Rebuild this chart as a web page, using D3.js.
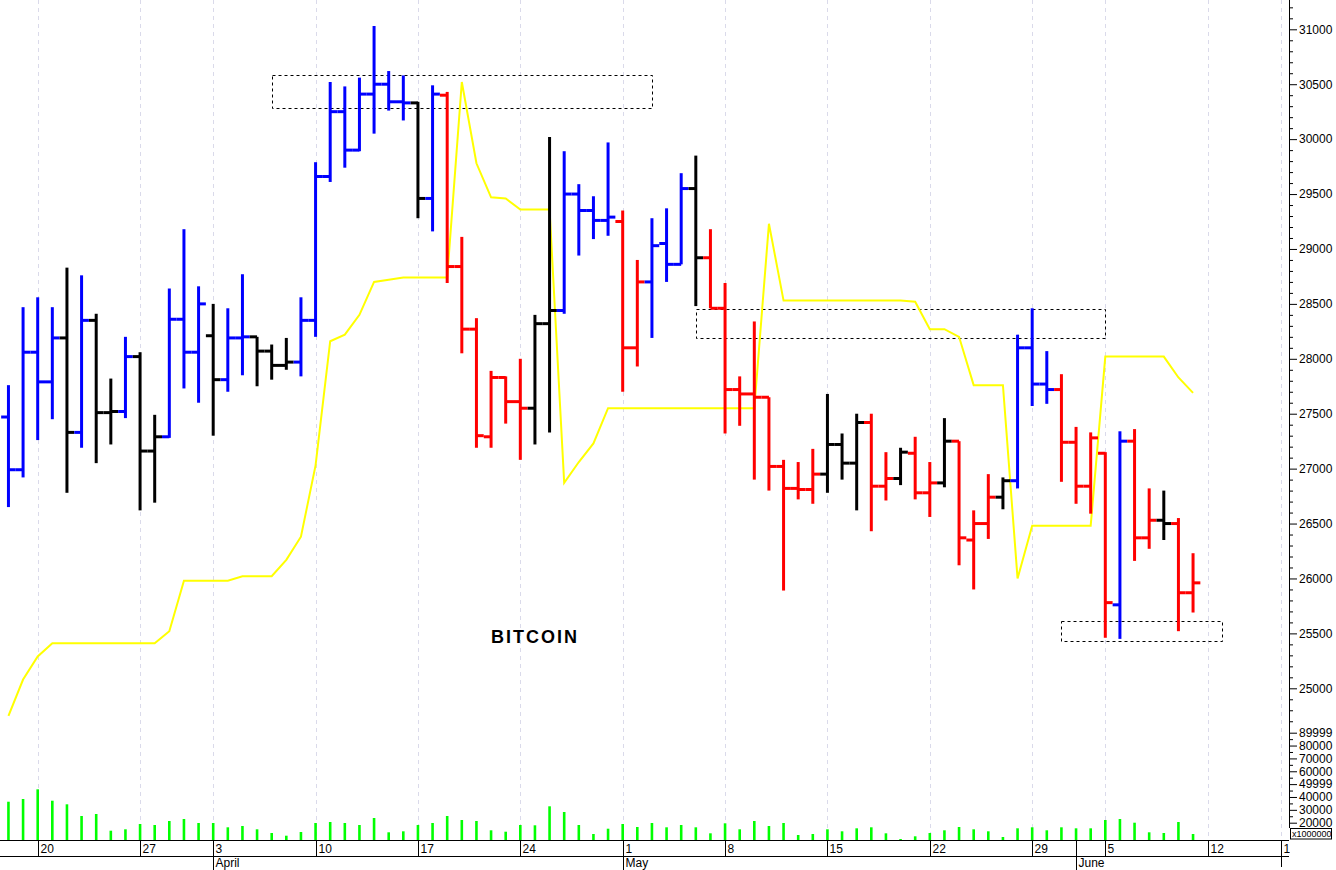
<!DOCTYPE html>
<html><head><meta charset="utf-8">
<script src="https://cdn.jsdelivr.net/npm/d3@7"></script>
<style>
body{margin:0;background:#fff;}
svg{display:block;font-family:"Liberation Sans",Arial,sans-serif;}
</style></head><body>
<svg id="chart" width="1336" height="870"></svg>
<script>
// ---- data (daily bars, index 0 = 18 March) ----
const opens=[27470,26990,28060,27790,28190,27330,28350,27510,27520,28020,
27160,27290,28360,28060,28210,27810,28190,28200,28070,27940,
27970,28350,29660,30250,29900,30410,30500,30340,30330,29460,
30400,28840,28270,27290,27830,27610,27550,28320,28440,29500,
29350,29260,29250,28100,28700,29050,28860,29550,28920,28460,
27720,27680,27650,27020,26820,26810,26950,27220,27050,27420,
26840,26910,27140,26780,26870,27250,26350,26500,26740,26890,
28100,27770,27720,27240,26840,27140,25760,27250,26370,26530,
26500,25870];
const highs=[27760,28470,28560,28470,28830,28760,28410,27820,28200,28060,
27490,28640,29180,28660,28500,28460,28770,28200,28130,28190,
28560,29790,30520,30480,30560,31030,30620,30580,30340,30490,
30430,29110,28370,27890,27840,28000,28400,30020,29890,29590,
29480,29970,29350,28900,29280,29370,29690,29850,29180,28690,
27840,28340,27650,27080,27060,27180,27680,27320,27500,27500,
27150,27190,27290,27060,27460,27250,26620,26950,26920,28220,
28460,28070,27860,27380,27330,27150,27340,27360,26820,26800,
26550,26230];
const lows=[26650,26920,27260,27450,26780,27190,27050,27220,27460,26620,
26690,27280,27730,27600,27300,27700,27850,27750,27810,27900,
27840,28200,29610,29740,29890,30050,30260,30170,29280,29160,
28690,28050,27190,27190,27410,27080,27220,27330,28410,28940,
29090,29120,27700,27930,28190,28700,28860,28480,28460,27320,
27390,26900,26800,25890,26720,26680,26780,26900,26620,26430,
26710,26850,26720,26560,26830,26120,25900,26360,26630,26820,
27570,27590,26880,26680,26590,25460,25450,26160,26270,26350,
25520,25690];
const closes=[26990,28060,27790,28190,27330,28350,27510,27520,28020,27160,
27290,28360,28060,28500,27810,28190,28200,28070,27940,27970,
28350,29660,30250,29900,30410,30500,30340,30330,29460,30410,
28840,28270,27300,27830,27610,27550,28320,28440,29500,29350,
29260,29290,28100,28700,29030,28860,29550,28920,28460,27720,
27680,27650,27020,26820,26810,26950,27220,27050,27420,26840,
26910,27150,26780,26870,27250,26370,26500,26740,26890,28100,
27770,27720,27240,26840,27280,25780,27250,26370,26530,26500,
25870,25960];
const barState=["B","B","B","B","K","B","K","K","B","K",
"K","B","B","B","K","B","B","K","K","K",
"B","B","B","B","B","B","B","B","K","B",
"R","R","R","R","R","R","K","K","B","B",
"B","B","R","R","B","B","B","K","R","R",
"R","R","R","R","R","R","K","K","K","R",
"R","K","R","R","K","R","R","R","K","B",
"B","B","R","R","R","R","B","R","R","K",
"R","R"];
const volumes=[36320,38420,45970,37100,34300,25200,26760,13770,14860,18980,
18200,21310,22870,19760,19760,16410,17420,14860,11980,9880,
12760,19760,20530,19760,18200,23650,12520,13300,18200,19760,
25200,22090,21310,14080,12990,18200,17970,32750,28310,18200,
11200,15320,18980,16640,19760,16410,18200,16410,11740,19520,
14860,21310,17420,19760,10420,11200,14860,13300,15630,16410,
11740,7310,9410,11980,14080,16640,14860,13300,8870,15630,
16410,14080,16410,15630,15630,22090,22870,19990,12520,11980,
20530,11200];
const trendLine=[24750,25080,25290,25410,25410,25410,25410,25410,25410,25410,
25410,25520,25980,25980,25980,25980,26020,26020,26020,26170,
26380,27030,28160,28220,28400,28700,28720,28740,28740,28740,
28740,30520,29780,29470,29460,29360,29360,29360,26870,27060,
27230,27550,27550,27550,27550,27550,27550,27550,27550,27550,
27550,27550,29230,28530,28530,28530,28530,28530,28530,28530,
28530,28530,28520,28270,28270,28200,27760,27760,27760,26000,
26480,26480,26480,26480,26480,28020,28020,28020,28020,28020,
27830,27690];
const boxStart=[18,47,72];
const boxEnd=[44,75,83];
const boxTop=[30580,28450,25615];
const boxBottom=[30280,28190,25430];
const weekIdx=[2,9,14,21,28,35,42,49,56,63,70,75,82,87];
const weekLabels=["20","27","3","10","17","24","1","8","15","22","29","5","12","19"];
const monthIdx=[14,42,73];
const monthLabels=["April","May","June"];
const priceMajor=d3.range(25000,31001,500);
const priceMinor=d3.range(24700,31201,100).filter(v=>v%500!==0);
const volTickVals=[90000,80000,70000,60000,50000,40000,30000,20000];
const volTickLabels=["89999","80000","70000","60000","49999","40000","30000","20000"];
const volMinor=[85000,75000,65000,55000,45000,35000,25000];
const title="BITCOIN";

// ---- layout ----
const W=1336,H=870,AX=1289,XB=840;
const stateColor={B:"#0000ff",R:"#ff0000",K:"#000000"};
const svg=d3.select("#chart");
svg.append("rect").attr("width",W).attr("height",H).attr("fill","#fff");
const x=d3.scaleLinear().domain([0,87]).range([8.45,1280.8]);
const y=d3.scaleLinear().domain([25000,31000]).range([688.3,29.3]);
const yv=d3.scaleLinear().domain([0,90000]).range([848.4,732.7]);
const defs=svg.append("defs");
defs.append("clipPath").attr("id","plotclip").append("rect").attr("x",0).attr("y",0).attr("width",AX).attr("height",XB);
defs.append("clipPath").attr("id","axclip").append("rect").attr("x",0).attr("y",XB).attr("width",1290).attr("height",H-XB);

// grid
svg.append("g").selectAll("line").data(weekIdx).join("line")
 .attr("x1",d=>Math.round(x(d))+0.5).attr("x2",d=>Math.round(x(d))+0.5)
 .attr("y1",0).attr("y2",XB)
 .attr("stroke","#dadaea").attr("stroke-width",1).attr("stroke-dasharray","4,4");

const plot=svg.append("g").attr("clip-path","url(#plotclip)");
// volume
plot.append("g").selectAll("line").data(volumes).join("line")
 .attr("x1",(d,i)=>x(i)).attr("x2",(d,i)=>x(i))
 .attr("y1",yv(0)).attr("y2",d=>yv(d))
 .attr("stroke","#00ff00").attr("stroke-width",2.6);
// dashed boxes
plot.append("g").selectAll("rect").data(boxStart).join("rect")
 .attr("x",(d,k)=>Math.round(x(d))+0.5).attr("y",(d,k)=>Math.round(y(boxTop[k]))+0.5)
 .attr("width",(d,k)=>Math.round(x(boxEnd[k])-x(d)))
 .attr("height",(d,k)=>Math.round(y(boxBottom[k])-y(boxTop[k])))
 .attr("fill","none").attr("stroke","#000").attr("stroke-width",1).attr("stroke-dasharray","3,3");
// trend line
plot.append("path").datum(trendLine)
 .attr("d",d3.line().x((d,i)=>x(i)).y(d=>y(d)))
 .attr("fill","none").attr("stroke","#ffff00").attr("stroke-width",2);
// bars
const half=7.3;
const bars=plot.append("g").selectAll("g").data(opens).join("g")
 .attr("stroke",(d,i)=>stateColor[barState[i]]).attr("stroke-width",3);
bars.append("line").attr("x1",(d,i)=>x(i)).attr("x2",(d,i)=>x(i))
 .attr("y1",(d,i)=>y(highs[i])).attr("y2",(d,i)=>y(lows[i]));
bars.append("line").attr("x1",(d,i)=>x(i)-half).attr("x2",(d,i)=>x(i))
 .attr("y1",d=>y(d)).attr("y2",d=>y(d));
bars.append("line").attr("x1",(d,i)=>x(i)).attr("x2",(d,i)=>x(i)+half)
 .attr("y1",(d,i)=>y(closes[i])).attr("y2",(d,i)=>y(closes[i]));

// title
svg.append("text").attr("x",535).attr("y",643).attr("text-anchor","middle")
 .attr("font-size",18).attr("font-weight","bold").attr("letter-spacing","2px")
 .attr("fill","#000").text(title);

// price axis
const ax=svg.append("g").attr("transform",`translate(${AX},0)`);
ax.append("line").attr("x1",0.5).attr("x2",0.5).attr("y1",0).attr("y2",828).attr("stroke","#000");
function styleAxis(g){g.select(".domain").remove();g.selectAll("line").attr("stroke","#000");
 g.selectAll("text").attr("font-size",12).attr("fill","#000").attr("font-family","'Liberation Sans',Arial,sans-serif");}
ax.append("g").call(d3.axisRight(y).tickValues(priceMajor).tickSize(8).tickPadding(2).tickFormat(d3.format("d"))).call(styleAxis);
ax.append("g").call(d3.axisRight(y).tickValues(priceMinor).tickSize(4).tickFormat("")).call(styleAxis);
ax.append("g").call(d3.axisRight(yv).tickValues(volTickVals).tickSize(8).tickPadding(2).tickFormat((d,i)=>volTickLabels[i])).call(styleAxis);
ax.append("g").call(d3.axisRight(yv).tickValues(volMinor).tickSize(4).tickFormat("")).call(styleAxis);
svg.append("rect").attr("x",1290.5).attr("y",828.5).attr("width",41).attr("height",10.5)
 .attr("fill","#fff").attr("stroke","#000").attr("stroke-width",1);
svg.append("text").attr("x",1292).attr("y",837.3).attr("font-size",9).attr("fill","#000").text("x1000000");

// date axis
const dax=svg.append("g").attr("clip-path","url(#axclip)");
dax.append("rect").attr("x",0).attr("y",XB).attr("width",1290).attr("height",H-XB).attr("fill","#fff");
dax.append("line").attr("x1",0).attr("x2",AX).attr("y1",XB+0.5).attr("y2",XB+0.5).attr("stroke","#000");
dax.append("line").attr("x1",0).attr("x2",AX).attr("y1",856.5).attr("y2",856.5).attr("stroke","#000");
const wk=dax.append("g").attr("transform",`translate(0,${XB})`)
 .call(d3.axisBottom(x).tickValues(weekIdx).tickSize(16.5).tickFormat((d,i)=>weekLabels[i]));
wk.select(".domain").remove();
wk.selectAll(".tick line").attr("stroke","#000");
wk.selectAll(".tick").attr("transform",d=>`translate(${Math.round(x(d))+0.5},0)`);
wk.selectAll("text").attr("x",2).attr("y",4).attr("dy","0.71em").attr("text-anchor","start")
 .attr("font-size",12).attr("fill","#000").attr("font-family","'Liberation Sans',Arial,sans-serif");
const mo=dax.append("g").attr("transform",`translate(0,${XB})`)
 .call(d3.axisBottom(x).tickValues(monthIdx).tickSize(30).tickFormat((d,i)=>monthLabels[i]));
mo.select(".domain").remove();
mo.selectAll(".tick line").attr("stroke","#000");
mo.selectAll(".tick").attr("transform",d=>`translate(${Math.round(x(d))+0.5},0)`);
mo.selectAll("text").attr("x",2).attr("y",18.3).attr("dy","0.71em").attr("text-anchor","start")
 .attr("font-size",12).attr("fill","#000").attr("font-family","'Liberation Sans',Arial,sans-serif");
dax.append("line").attr("x1",Math.round(x(87))+0.5).attr("x2",Math.round(x(87))+0.5)
 .attr("y1",XB).attr("y2",867).attr("stroke","#000");
</script>
</body></html>
